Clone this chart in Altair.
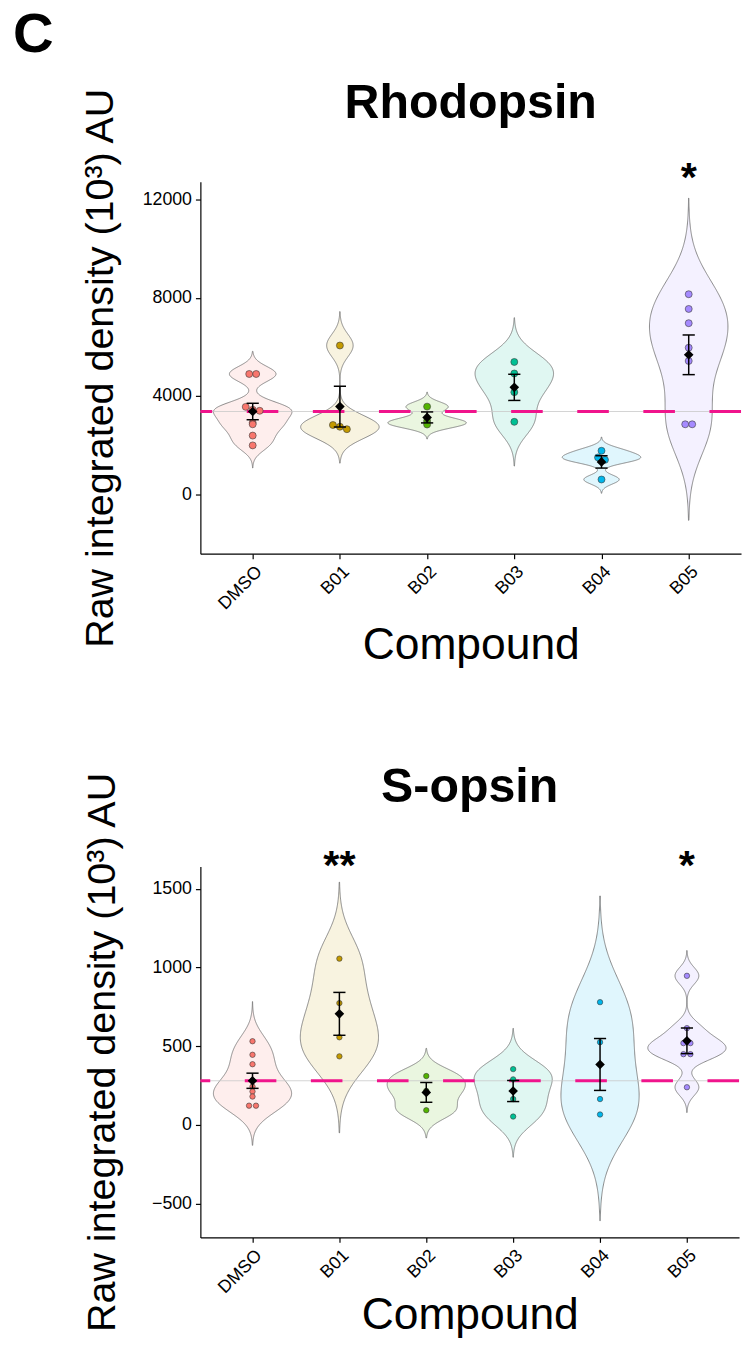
import altair as alt
import numpy as np
import pandas as pd

groups = ["DMSO", "B01", "B02", "B03", "B04", "B05"]
colors = ["#F8766D", "#C49A00", "#53B400", "#00C094", "#00B6EB", "#A58AFF"]

# Rhodopsin (10^3 AU)
rho_dmso = [4900, 4900, 3560, 3440, 3400, 2910, 2850, 2390, 1990]
rho_b01 = [6060, 2820, 2750, 2650]
rho_b02 = [3570, 2980, 2840]
rho_b03 = [5390, 4920, 4160, 2950]
rho_b04 = [1770, 1500, 1400, 600]
rho_b05 = [8150, 7550, 6970, 5970, 5430, 2850, 2850]

# S-opsin (10^3 AU)
sop_dmso = [532, 446, 386, 282, 244, 213, 181, 123, 123]
sop_b01 = [1056, 774, 557, 436]
sop_b02 = [311, 217, 94]
sop_b03 = [355, 290, 165, 54]
sop_b04 = [780, 526, 165, 67]
sop_b05 = [947, 615, 520, 520, 450, 450, 240]

rho_ticks = [0, 4000, 8000, 12000]
sop_ticks = [-500, 0, 500, 1000, 1500]
rho_domain = [-2424, 12732]
sop_domain = [-713, 1641]
rho_stars = {"B05": "*"}
sop_stars = {"B01": "**", "B05": "*"}
rho_star_y = 12350
sop_star_y = 1560

FONT = "Liberation Sans"
YTITLE = "Raw integrated density (10³) AU"


def nrd0(vals):
    x = np.asarray(vals, dtype=float)
    hi = x.std(ddof=1)
    q1, q3 = np.quantile(x, [0.25, 0.75])
    lo = min(hi, (q3 - q1) / 1.34)
    if lo == 0:
        lo = hi
    return 0.9 * lo * len(x) ** (-0.2)


def panel(title, series, ydomain, yticks, stars, star_y, width, height,
          pt_size, tol, ytitle_pad, xtitle_pad, letter=None):
    rows = []
    for i, (g, vals) in enumerate(zip(groups, series)):
        for v in vals:
            rows.append({"group": g, "idx": i, "value": v})
    df = pd.DataFrame(rows)

    xs = alt.Scale(domain=[-0.6, 5.6], nice=False, zero=False)
    ys = alt.Scale(domain=ydomain, nice=False, zero=False)
    label_expr = "[" + ",".join(f"'{g}'" for g in groups) + "][datum.value]"
    xaxis = alt.Axis(values=list(range(len(groups))), labelExpr=label_expr,
                     labelAngle=-45, labelAlign="right", labelBaseline="top",
                     title="Compound", titlePadding=xtitle_pad, titleFontSize=45)
    yaxis = alt.Axis(values=yticks, format="d", title=YTITLE,
                     titlePadding=ytitle_pad, titleFontSize=40)

    def X(f):
        return alt.X(f, type="quantitative", scale=xs, axis=xaxis)

    def Y(f):
        return alt.Y(f, type="quantitative", scale=ys, axis=yaxis)

    base = alt.Chart(df)
    layers = []
    for i, (g, vals) in enumerate(zip(groups, series)):
        bw = nrd0(vals)
        ext = [float(min(vals) - 3 * bw), float(max(vals) + 3 * bw)]
        v = base.transform_filter(alt.datum.group == g).transform_density(
            "value", as_=["v", "dens"], bandwidth=float(bw), extent=ext, steps=300
        ).transform_joinaggregate(mx="max(dens)").transform_calculate(
            xl=f"{i} - 0.45 * datum.dens / datum.mx",
            xr=f"{i} + 0.45 * datum.dens / datum.mx",
        ).mark_area(orient="horizontal", fill=colors[i], fillOpacity=0.12,
                    stroke="#6E6E6E", strokeWidth=0.8).encode(
            y=Y("v"), x=X("xl"), x2="xr:Q"
        )
        layers.append(v)

    dm = base.transform_filter(alt.datum.group == groups[0]).transform_aggregate(
        m="mean(value)")
    layers.append(dm.mark_rule(color="#C8C8C8", strokeWidth=0.8).encode(y=Y("m")))
    layers.append(dm.mark_rule(color="#F0148C", strokeWidth=3,
                               strokeDash=[32, 35]).encode(y=Y("m")))

    pts = base.transform_calculate(
        key=f"round(datum.value / {tol})"
    ).transform_window(
        rn="row_number()", groupby=["group", "key"]
    ).transform_joinaggregate(
        cnt="count()", groupby=["group", "key"]
    ).transform_calculate(
        px="datum.idx + (datum.rn - (datum.cnt + 1) / 2) * 0.08"
    ).mark_point(filled=True, size=pt_size, opacity=1, stroke="#3A3A3A",
                 strokeWidth=0.6).encode(
        x=X("px"), y=Y("value"),
        fill=alt.Fill("group:N", scale=alt.Scale(domain=groups, range=colors),
                      legend=None),
    )
    layers.append(pts)

    agg = base.transform_aggregate(
        m="mean(value)", se="stderr(value)", groupby=["idx"]
    ).transform_calculate(
        lo="datum.m - datum.se", hi="datum.m + datum.se",
        cl="datum.idx - 0.07", cr="datum.idx + 0.07",
    )
    layers.append(agg.mark_rule(color="black", strokeWidth=1.5).encode(
        x=X("idx"), y=Y("lo"), y2="hi:Q"))
    layers.append(agg.mark_rule(color="black", strokeWidth=1.5).encode(
        x=X("cl"), x2="cr:Q", y=Y("lo")))
    layers.append(agg.mark_rule(color="black", strokeWidth=1.5).encode(
        x=X("cl"), x2="cr:Q", y=Y("hi")))
    layers.append(agg.mark_point(shape="diamond", filled=True, color="black",
                                 size=95, opacity=1).encode(x=X("idx"), y=Y("m")))

    sdf = pd.DataFrame({"idx": [groups.index(k) for k in stars],
                        "t": list(stars.values()),
                        "sy": [star_y] * len(stars)})
    layers.append(alt.Chart(sdf).mark_text(
        font=FONT, fontSize=42, fontWeight="bold", baseline="alphabetic",
        color="black").encode(x=X("idx"), y=Y("sy"), text="t:N"))

    # panel title as a text mark centred over the plot area
    tdf = pd.DataFrame({"t": [title], "cx": [2.5]})
    layers.append(alt.Chart(tdf).mark_text(
        font=FONT, fontSize=49, fontWeight="bold", baseline="alphabetic",
        align="center", color="black").encode(
        x=X("cx"), y=alt.value(-65), text="t:N"))

    if letter is not None:
        ldf = pd.DataFrame({"t": [letter[0]]})
        layers.append(alt.Chart(ldf).mark_text(
            font=FONT, fontSize=57, fontWeight="bold", align="left",
            baseline="top", color="black").encode(
            x=alt.value(letter[1]), y=alt.value(letter[2]), text="t:N"))

    return alt.layer(*layers).properties(width=width, height=height)


top = panel("Rhodopsin",
            [rho_dmso, rho_b01, rho_b02, rho_b03, rho_b04, rho_b05],
            rho_domain, rho_ticks, rho_stars, rho_star_y, 548, 377, 50, 250,
            22, 10, letter=("C", -190, -177))
bottom = panel("S-opsin",
               [sop_dmso, sop_b01, sop_b02, sop_b03, sop_b04, sop_b05],
               sop_domain, sop_ticks, sop_stars, sop_star_y, 546, 376, 30, 30,
               30, -4)

chart = alt.vconcat(top, bottom, spacing=96).properties(
    padding={"left": 4, "top": -12, "right": 0, "bottom": 5}
).configure_view(stroke="transparent").configure_axis(
    grid=False, domainColor="black", domainWidth=1.2, tickColor="black",
    tickWidth=1.2, tickSize=5, labelColor="black", labelFont=FONT,
    labelFontSize=18, labelPadding=4, titleFont=FONT,
    titleFontWeight="normal", titleColor="black",
)

chart.save("out.html", embed_options={"renderer": "svg", "actions": False})
